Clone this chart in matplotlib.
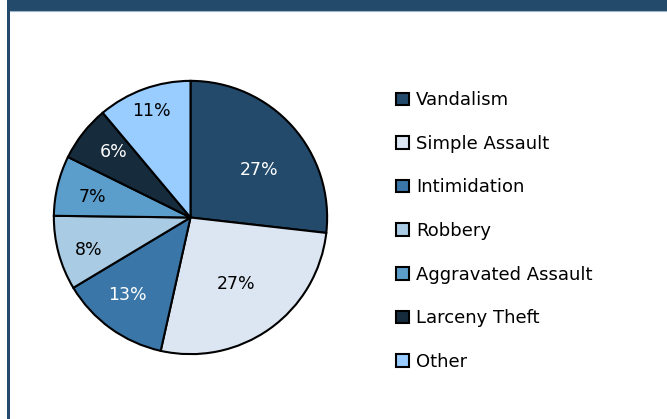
import matplotlib.pyplot as plt
from matplotlib.patches import Rectangle
import numpy as np

plt.rcParams['font.family'] = 'DejaVu Sans'

categories = ['Vandalism', 'Simple Assault', 'Intimidation', 'Robbery',
              'Aggravated Assault', 'Larceny Theft', 'Other']
shares = [26.8, 26.7, 12.9, 8.8, 7.1, 6.6, 11.1]
pct_labels = ['27%', '27%', '13%', '8%', '7%', '6%', '11%']

colors = ['#234a6b', '#dce6f2', '#3a77a8', '#a9cbe3', '#5c9ecb', '#162b3c', '#99ccff']
text_colors = ['white', 'black', 'white', 'black', 'black', 'white', 'black']
label_dist = [0.61, 0.59, 0.73, 0.78, 0.73, 0.74, 0.83]
label_turn = [7.4, 0.9, 3.5, -2.5, -1.7, 2.0, 0.0]   # degrees, clockwise

W, H = 667, 419
fig = plt.figure(figsize=(W / 100, H / 100), dpi=100)

# frame: top band + left border
fig.patches.append(Rectangle((7 / W, 1 - 11 / H), 1, 11 / H, transform=fig.transFigure,
                             facecolor='#234a6b', edgecolor='none'))
fig.patches.append(Rectangle((7 / W, 0), 3 / W, 1, transform=fig.transFigure,
                             facecolor='#234a6b', edgecolor='none'))
fig.lines.append(plt.Line2D([10 / W, 1], [1 - 11.5 / H, 1 - 11.5 / H], transform=fig.transFigure,
                            color='#9db3c8', lw=0.8))

# pie
cx, cy, r = 190.5, 201.5, 138
ax = fig.add_axes([(cx - r) / W, (cy - r) / H, 2 * r / W, 2 * r / H])
wedges, _ = ax.pie(shares, colors=colors, startangle=90, counterclock=False,
                   wedgeprops=dict(edgecolor='black', linewidth=1.5))
for w, lab, c, d, t in zip(wedges, pct_labels, text_colors, label_dist, label_turn):
    ang = np.deg2rad((w.theta1 + w.theta2) / 2 - t)
    ax.text(d * np.cos(ang), d * np.sin(ang), lab, color=c, fontsize=12.5,
            ha='center', va='center')
ax.set_xlim(-1.01, 1.01)
ax.set_ylim(-1.01, 1.01)

fig.legend(wedges, categories, loc='upper left', bbox_to_anchor=(389 / W, 1 - 84 / H),
           frameon=False, prop=dict(size=13),
           handlelength=0.7, handleheight=0.7, handletextpad=0.4,
           labelspacing=1.42, borderaxespad=0)

fig.savefig('out.png', dpi=100)
